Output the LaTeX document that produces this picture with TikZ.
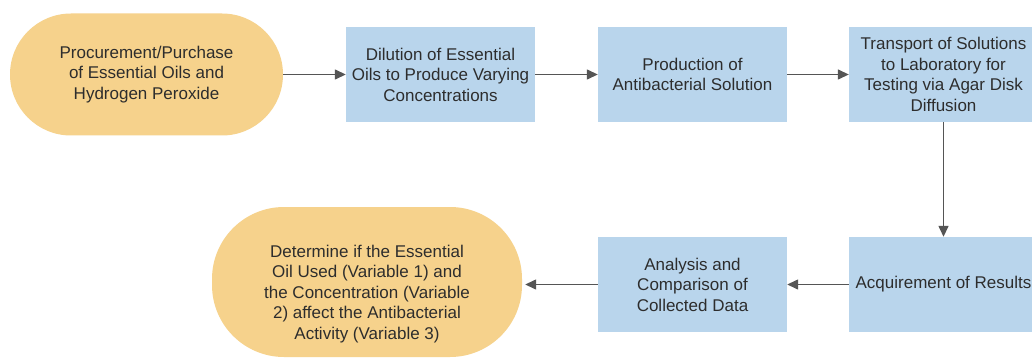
\documentclass[tikz,border=0pt]{standalone}
\usepackage{fontspec}
\setmainfont{Liberation Sans}
\usetikzlibrary{arrows.meta}
\definecolor{termfill}{RGB}{246,210,140}
\definecolor{boxfill}{RGB}{185,213,236}
\definecolor{txt}{RGB}{45,45,45}
\definecolor{arr}{RGB}{85,85,85}
\begin{document}
\begin{tikzpicture}[x=1pt,y=-1pt,
  every node/.style={font=\fontsize{17}{20.5}\selectfont, text=txt, align=center, inner sep=0pt},
  procbox/.style={rectangle, fill=boxfill, minimum width=189pt, minimum height=95pt},
  termbox/.style={rectangle, fill=termfill},
  conn/.style={draw=arr, line width=1.4pt, -{Triangle[length=11pt,width=10pt]}}
]
\clip (0,0) rectangle (1032,358);
\fill[white] (0,0) rectangle (1032,358);
\node[termbox, minimum width=273pt, minimum height=122pt, rounded corners=61pt] (start) at (146.5,74.5) {};
\node (starttext) at (146.5,74.5) {Procurement/Purchase\\of Essential Oils and\\Hydrogen Peroxide};
\node[procbox] (dil) at (440.5,74.5) {Dilution of Essential\\Oils to Produce Varying\\Concentrations};
\node[procbox] (prod) at (692.5,74.5) {Production of\\Antibacterial Solution};
\node[procbox] (trans) at (943.5,74.5) {Transport of Solutions\\to Laboratory for\\Testing via Agar Disk\\Diffusion};
\node[procbox] (acq) at (943.5,284.5) {Acquirement of Results};
\node[procbox] (ana) at (692.5,284.5) {Analysis and\\Comparison of\\Collected Data};
\node[termbox, minimum width=310pt, minimum height=150pt, rounded corners=72pt] (end) at (367,282) {};
\node (endtext) at (367,294) {Determine if the Essential\\Oil Used (Variable 1) and\\the Concentration (Variable\\2) affect the Antibacterial\\Activity (Variable 3)};
\draw[conn] (start.east) -- (dil.west);
\draw[conn] (dil.east) -- (prod.west);
\draw[conn] (prod.east) -- (trans.west);
\draw[conn] (trans.south) -- (acq.north);
\draw[conn] (acq.west) -- (ana.east);
\draw[conn, shorten >=3pt] (ana.west) -- (ana.west -| end.east);
\end{tikzpicture}
\end{document}
